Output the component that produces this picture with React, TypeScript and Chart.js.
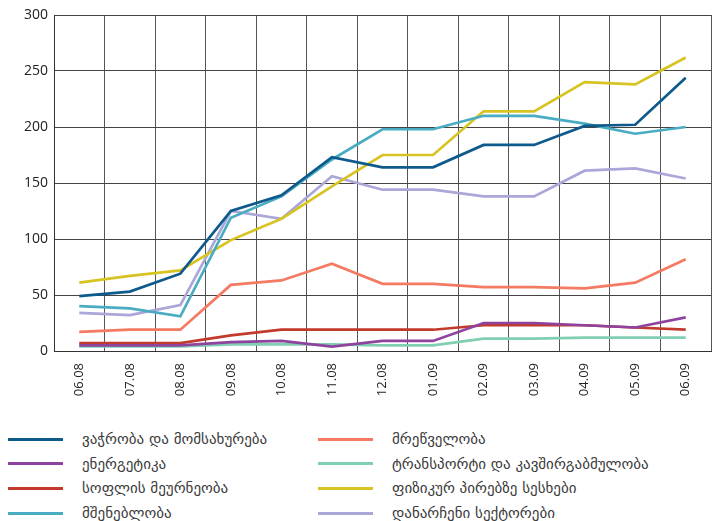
import React, { useEffect, useRef } from "react";
import { Chart, registerables } from "chart.js";

Chart.register(...registerables);

const labels = ["06.08", "07.08", "08.08", "09.08", "10.08", "11.08", "12.08", "01.09", "02.09", "03.09", "04.09", "05.09", "06.09"];
const yTicks = [0, 50, 100, 150, 200, 250, 300];

const trade = [49, 53, 69, 125, 139, 173, 164, 164, 184, 184, 201, 202, 244];
const energy = [5, 5, 5, 8, 9, 4, 9, 9, 25, 25, 23, 21, 30];
const agriculture = [7, 7, 7, 14, 19, 19, 19, 19, 23, 23, 23, 21, 19];
const construction = [40, 38, 31, 119, 138, 171, 198, 198, 210, 210, 203, 194, 200];
const industry = [17, 19, 19, 59, 63, 78, 60, 60, 57, 57, 56, 61, 82];
const transport = [4, 4, 4, 6, 6, 6, 5, 5, 11, 11, 12, 12, 12];
const individuals = [61, 67, 72, 99, 118, 147, 175, 175, 214, 214, 240, 238, 262];
const other = [34, 32, 41, 125, 118, 156, 144, 144, 138, 138, 161, 163, 154];

const seriesNames = [
  "ვაჭრობა და მომსახურება",
  "ენერგეტიკა",
  "სოფლის მეურნეობა",
  "მშენებლობა",
  "მრეწველობა",
  "ტრანსპორტი და კავშირგაბმულობა",
  "ფიზიკურ პირებზე სესხები",
  "დანარჩენი სექტორები",
];
const seriesData = [trade, energy, agriculture, construction, industry, transport, individuals, other];
const seriesColors = ["#0e5a8c", "#8e449f", "#c23a2b", "#4aacc2", "#f47a62", "#80cfb1", "#d7c322", "#aba7d9"];

export default function App() {
  const ref = useRef<HTMLCanvasElement | null>(null);

  useEffect(() => {
    if (!ref.current) return;
    const chart = new Chart(ref.current, {
      type: "line",
      data: {
        labels,
        datasets: seriesNames.map((name, i) => ({
          label: name,
          data: seriesData[i],
          borderColor: seriesColors[i],
          backgroundColor: seriesColors[i],
          borderWidth: 2.7,
          pointRadius: 0,
          tension: 0,
          fill: false,
        })),
      },
      options: {
        responsive: false,
        animation: false,
        layout: { padding: { top: 15, right: 3, left: 0, bottom: 0 } },
        plugins: { legend: { display: false }, tooltip: { enabled: false } },
        scales: {
          x: {
            type: "category",
            offset: true,
            grid: { offset: true, color: "#555", lineWidth: 1, drawTicks: false },
            border: { color: "#333", width: 1 },
            ticks: {
              minRotation: 90,
              maxRotation: 90,
              padding: 12,
              color: "#222",
              font: { family: "'Open Sans', sans-serif", size: 13 },
            },
            afterFit: (scale: any) => {
              scale.height = 60;
            },
          },
          y: {
            min: 0,
            max: 300,
            afterBuildTicks: (scale: any) => {
              scale.ticks = yTicks.map((v) => ({ value: v }));
            },
            grid: { color: "#444", lineWidth: 1, drawTicks: false },
            border: { color: "#333", width: 1 },
            ticks: {
              padding: 6,
              color: "#222",
              font: { family: "'Open Sans', sans-serif", size: 14 },
            },
            afterFit: (scale: any) => {
              scale.width = 54;
            },
          },
        },
      },
    });
    return () => chart.destroy();
  }, []);

  const legendRows = [0, 1, 2, 3];
  return (
    <div style={{ position: "absolute", left: 0, top: 0, width: 714, height: 521, background: "#fff" }}>
      <canvas ref={ref} width={714} height={411} style={{ display: "block", width: 714, height: 411 }} />
      {seriesNames.map((name, i) => {
        const col = i < 4 ? 0 : 1;
        const row = legendRows[i % 4];
        const cy = 439 + row * 24.7;
        const lineX = col === 0 ? 8 : 318;
        const textX = col === 0 ? 82 : 392;
        return (
          <React.Fragment key={name}>
            <div
              style={{
                position: "absolute",
                left: lineX,
                top: cy - 1.5,
                width: 55,
                height: 3,
                background: seriesColors[i],
              }}
            />
            <div
              style={{
                position: "absolute",
                left: textX,
                top: cy - 11,
                height: 22,
                lineHeight: "22px",
                fontFamily: "'DejaVu Sans', sans-serif",
                fontSize: 15,
                color: "#3a3a3a",
                whiteSpace: "nowrap",
              }}
            >
              {name}
            </div>
          </React.Fragment>
        );
      })}
    </div>
  );
}
